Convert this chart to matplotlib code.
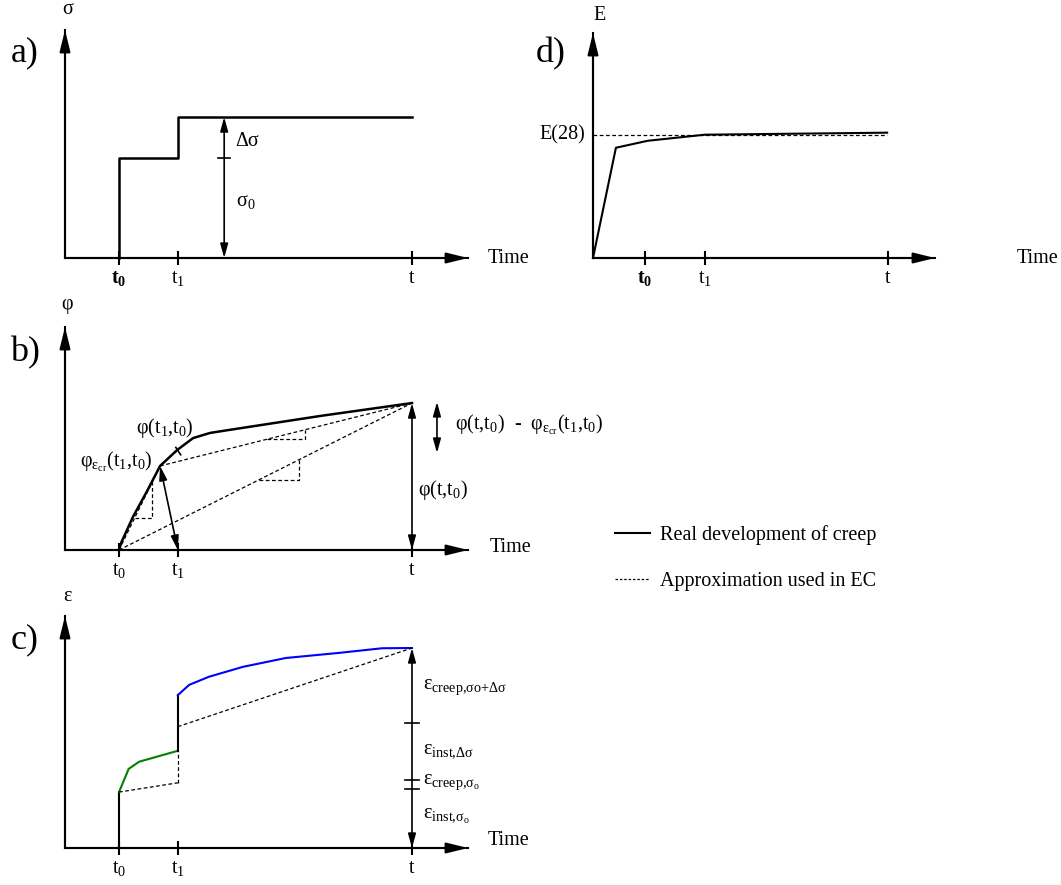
import matplotlib
matplotlib.use("Agg")
import matplotlib.pyplot as plt
from matplotlib.lines import Line2D

plt.rcParams['font.family'] = ['Liberation Serif', 'DejaVu Serif']
plt.rcParams['mathtext.fontset'] = 'custom'
plt.rcParams['mathtext.rm'] = 'Liberation Serif'
plt.rcParams['mathtext.it'] = 'Liberation Serif:italic'
plt.rcParams['mathtext.bf'] = 'Liberation Serif:bold'
plt.rcParams['mathtext.default'] = 'regular'

# ---- data (arbitrary units, axes run 0..100) ----
t0, t1, t_end = 13.4, 28.0, 86.1

# a) stress history
stress_x = [t0, t0, t1, t1, t_end]
stress_y = [0, 43.9, 43.9, 61.8, 61.8]
sigma0, sigma1 = 43.9, 61.8

# b) creep coefficient
creep_x = [t0, 14.0, 16.9, 20.3, 23.6, 27.8, 31.8, 36.0, 40.6, 63.3, t_end]
creep_y = [0, 3.5, 15.0, 26.2, 37.7, 44.8, 50.2, 52.5, 53.8, 60.1, 65.9]
phi_cr = (23.6, 37.7)
phi_end = 65.9
phi_diff_top, phi_diff_bot = 66.4, 43.5

# c) strain history
green_x = [t0, 15.8, 18.4, t1]
green_y = [24.1, 34.1, 37.2, 41.9]
blue_x = [t1, 30.8, 35.7, 44.2, 54.8, 68.0, 78.7, t_end]
blue_y = [65.9, 70.3, 73.8, 78.1, 81.9, 84.1, 86.1, 86.2]
approx1_y = [24.1, 28.1]
approx2_y = [52.3, 86.2]
strain_marks = [53.9, 29.3, 25.6]

# d) modulus of elasticity
d_ticks = [15.1, 32.7, 86.3]
e_x = [0, 6.7, 16.0, 32.7, 86.0]
e_y = [0, 49.0, 52.1, 54.8, 55.7]
e28 = 54.8

W, H = 1061, 885
fig = plt.figure(figsize=(W / 100, H / 100), dpi=100)

FS = 14.5
DASH = (0, (3, 2))


def px_axes(l, t, r, b):
    ax = fig.add_axes([l / W, 1 - b / H, (r - l) / W, (b - t) / H])
    ax.set_xlim(0, 100)
    ax.set_ylim(0, 100)
    ax.patch.set_visible(False)
    for s in ['top', 'right']:
        ax.spines[s].set_visible(False)
    for s in ['left', 'bottom']:
        ax.spines[s].set_linewidth(1.5)
    ax.set_yticks([])
    ax.tick_params(axis='x', direction='inout', length=10, width=1.5,
                   pad=3, labelsize=FS)
    arr = dict(arrowstyle='-|>,head_length=0.65,head_width=0.16',
               mutation_scale=20, lw=1.5, color='k', shrinkA=0, shrinkB=0)
    ax.annotate('', xy=(100, 0), xytext=(0, 0), arrowprops=arr)
    ax.annotate('', xy=(0, 100), xytext=(0, 0), arrowprops=arr)
    return ax


def darrow(ax, p, q):
    ax.annotate('', xy=q, xytext=p,
                arrowprops=dict(arrowstyle='<|-|>,head_length=0.65,head_width=0.18',
                                mutation_scale=13, lw=1.2, color='k',
                                shrinkA=0, shrinkB=0))


def dash(ax, x, y):
    ax.plot(x, y, color='k', lw=0.9, ls=DASH, clip_on=False)


# ---------------- a) ----------------
ax = px_axes(65, 30, 468, 258)
ax.set_xticks([t0, t1, t_end], [r'$\mathbf{t_0}$', '$t_1$', '$t$'])
ax.plot(stress_x, stress_y, color='k', lw=1.8, clip_on=False)
darrow(ax, (39.5, 0), (39.5, sigma1))
ax.plot([38.0, 40.9], [sigma0, sigma0], color='k', lw=1.2)
ax.text(42.2, 51.3, 'Δσ', fontsize=FS, va='center')
ax.text(42.4, 25, r'$σ_0$', fontsize=FS, va='center')
ax.text(0.6, 108.8, 'σ', fontsize=FS, ha='center', va='center')
ax.text(105, 0, 'Time', fontsize=FS, va='center')
ax.text(-9.9, 89.9, 'a)', fontsize=26, ha='center', va='center')

# ---------------- b) ----------------
ax = px_axes(65, 327, 468, 550)
ax.set_xticks([t0, t1, t_end], ['$t_0$', '$t_1$', '$t$'])
ax.plot(creep_x, creep_y, color='k', lw=1.8, clip_on=False)
dash(ax, [t0, t_end], [0, phi_end])
dash(ax, [phi_cr[0], t_end], [phi_cr[1], phi_end])
dash(ax, [t0, phi_cr[0]], [0, phi_cr[1]])
dash(ax, [phi_cr[0], 27.6], [phi_cr[1], 44.2])
# slope triangles
s_chord = phi_cr[1] / (phi_cr[0] - t0)
s_upper = (phi_end - phi_cr[1]) / (t_end - phi_cr[0])
s_long = phi_end / (t_end - t0)
y_a = 14.3
dash(ax, [t0 + y_a / s_chord, 21.6, 21.6], [y_a, y_a, (21.6 - t0) * s_chord])
xa, xb = 50.1, 59.6
ya, yb = phi_cr[1] + s_upper * (xa - phi_cr[0]), phi_cr[1] + s_upper * (xb - phi_cr[0])
dash(ax, [xa, xb, xb], [ya, ya, yb])
xa, xb = 48.1, 58.1
dash(ax, [xa, xb, xb], [(xa - t0) * s_long, (xa - t0) * s_long, (xb - t0) * s_long])
# tick mark phi(t1,t0)
ax.plot([27.5, 28.7], [46.0, 42.7], color='k', lw=1.2)
darrow(ax, (t1, 0), phi_cr)
darrow(ax, (t_end, 0), (t_end, phi_end))
darrow(ax, (92.3, phi_diff_bot), (92.3, phi_diff_top))
ax.text(24.8, 54.7, r'$φ(t_1{,}t_0)$', fontsize=FS, ha='center', va='center')
ax.text(21.8, 39.5, r'$φ_{ε_{cr}}(t_1{,}t_0)$', fontsize=FS, ha='right', va='center')
ax.text(87.6, 26.9, r'$φ(t{,}t_0)$', fontsize=FS, va='center')
ax.text(96.8, 56, r'$φ(t{,}t_0)$  -  $φ_{ε_{cr}}(t_1{,}t_0)$', fontsize=FS, va='center')
ax.text(0.6, 110, 'φ', fontsize=FS, ha='center', va='center')
ax.text(105.5, 1, 'Time', fontsize=FS, va='center')
ax.text(-9.9, 88.3, 'b)', fontsize=26, ha='center', va='center')

# ---------------- c) ----------------
ax = px_axes(65, 616, 468, 848)
ax.set_xticks([t0, t1, t_end], ['$t_0$', '$t_1$', '$t$'])
ax.plot([t0, t0], [0, green_y[0]], color='k', lw=1.5, clip_on=False)
ax.plot(green_x, green_y, color='green', lw=1.5, clip_on=False)
ax.plot([t1, t1], [green_y[-1], blue_y[0]], color='k', lw=1.5, clip_on=False)
ax.plot(blue_x, blue_y, color='blue', lw=1.5, clip_on=False)
dash(ax, [t0, t1], approx1_y)
dash(ax, [t1, t1], [approx1_y[1], green_y[-1]])
dash(ax, [t1, t_end], approx2_y)
darrow(ax, (t_end, 0), (t_end, blue_y[-1]))
for m in strain_marks:
    ax.plot([84.4, 87.8], [m, m], color='k', lw=1.2)
ax.text(88.8, 69.4, r'$ε_{creep{,}σo{+}Δσ}$', fontsize=FS, va='center')
ax.text(88.8, 42.2, r'$ε_{inst{,}Δσ}$', fontsize=FS, va='center')
ax.text(88.8, 28.4, r'$ε_{creep{,}σ_o}$', fontsize=FS, va='center')
ax.text(88.8, 13.8, r'$ε_{inst{,}σ_o}$', fontsize=FS, va='center')
ax.text(0.6, 108.6, 'ε', fontsize=FS, ha='center', va='center')
ax.text(105, 3.4, 'Time', fontsize=FS, va='center')
ax.text(-9.9, 89.7, 'c)', fontsize=26, ha='center', va='center')

# ---------------- d) ----------------
ax = px_axes(593, 33, 935, 258)
ax.set_xticks(d_ticks, [r'$\mathbf{t_0}$', '$t_1$', '$t$'])
ax.plot(e_x, e_y, color='k', lw=1.5, clip_on=False)
dash(ax, [0, e_x[-1]], [e28, e28])
ax.text(-2.3, e28, 'E(28)', fontsize=FS, ha='right', va='center')
ax.text(2.0, 108, 'E', fontsize=FS, ha='center', va='center')
ax.text(136.0, 0, 'Time', fontsize=FS, ha='right', va='center')
ax.text(-12.3, 91, 'd)', fontsize=26, ha='center', va='center')

# legend
handles = [Line2D([], [], color='k', lw=1.5),
           Line2D([], [], color='k', lw=0.9, ls=(0, (2, 1.5)))]
fig.legend(handles, ['Real development of creep', 'Approximation used in EC'],
           loc='upper left', bbox_to_anchor=(615 / W, 1 - 525 / H),
           frameon=False, fontsize=FS, handlelength=1.75, handletextpad=0.5,
           labelspacing=1.35, borderpad=0, borderaxespad=0)

fig.savefig('out.png', dpi=100)
